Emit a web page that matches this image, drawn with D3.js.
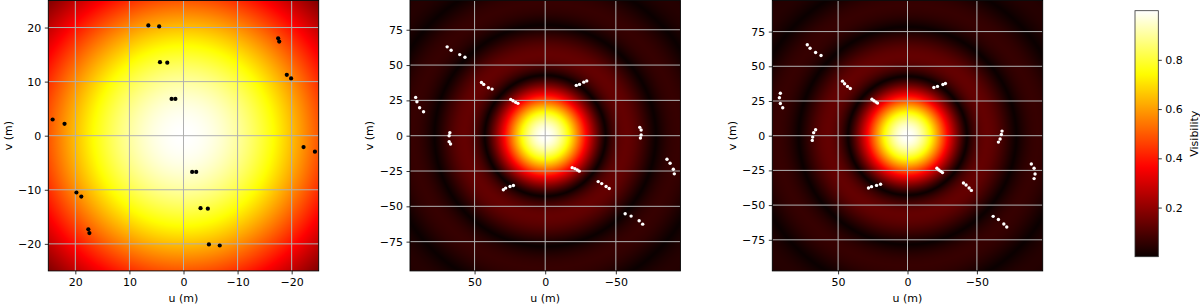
<!DOCTYPE html>
<html>
<head>
<meta charset="utf-8">
<script src="https://cdn.jsdelivr.net/npm/d3@7"></script>
<style>
  body { margin: 0; background: #fff; }
  text { font-family: "DejaVu Sans", sans-serif; fill: #000; }
</style>
</head>
<body>
<svg id="fig" width="1200" height="305"></svg>
<script>
// ---- data ----
// uv points (m), one [u, v] pair per antenna baseline sample
const uvPanel1 = [
  [6.5, 20.4], [4.5, 20.2], [4.35, 13.6], [3.0, 13.5], [2.2, 6.8], [1.5, 6.8],
  [-17.5, 18.0], [-17.7, 17.4], [-19.1, 11.25], [-19.9, 10.6],
  [24.2, 3.0], [22.0, 2.2],
  [19.8, -10.5], [18.9, -11.25], [17.6, -17.3], [17.4, -18.0],
  [-1.6, -6.7], [-2.35, -6.7], [-3.15, -13.4], [-4.5, -13.5], [-4.7, -20.1], [-6.7, -20.3],
  [-22.2, -2.1], [-24.3, -2.95]
];

const uvPanel2 = [
  [69.4, 62.9], [66.6, 60.5], [60.5, 57.4], [56.8, 55.5],
  [45.1, 37.7], [43.5, 36.3], [40.2, 33.9], [37.6, 33.0],
  [24.4, 25.7], [22.8, 24.7], [20.9, 23.6], [19.3, 22.9],
  [-22.0, 35.6], [-24.3, 36.3], [-27.3, 37.9], [-29.4, 38.8],
  [91.7, 27.1], [90.8, 24.0], [88.9, 19.8], [86.1, 17.0],
  [67.5, 2.1], [68.0, 0.0], [68.0, -4.2], [67.0, -5.9],
  [-66.9, 5.9], [-67.9, 4.0], [-67.9, 0.5], [-67.4, -1.6],
  [-19.1, -22.6], [-21.0, -23.3], [-22.7, -24.2], [-24.1, -25.1],
  [29.6, -38.3], [28.0, -37.1], [24.9, -36.0], [22.5, -35.3],
  [-37.5, -32.5], [-40.0, -33.9], [-43.1, -36.0], [-45.3, -37.4],
  [-56.6, -55.3], [-60.8, -56.9], [-66.5, -60.2], [-69.0, -62.6],
  [-86.2, -16.7], [-88.4, -19.5], [-90.7, -23.7], [-91.4, -27.0]
];

const uvPanel3 = [
  [72.2, 65.5], [70.2, 63.0], [66.2, 59.9], [62.3, 57.8],
  [46.8, 39.3], [45.3, 37.4], [43.2, 35.5], [41.2, 34.0],
  [25.6, 26.3], [24.2, 25.2], [22.7, 24.2], [21.6, 23.5],
  [-19.0, 34.7], [-21.6, 35.5], [-25.5, 36.9], [-27.3, 37.6],
  [91.6, 30.6], [92.3, 27.3], [91.6, 23.2], [89.9, 20.1],
  [66.2, 4.3], [67.6, 2.2], [68.3, -1.0], [68.6, -3.4],
  [-68.1, 3.3], [-67.6, 0.9], [-66.7, -2.4], [-65.5, -4.6],
  [-21.2, -23.5], [-22.6, -24.7], [-24.0, -25.7], [-25.2, -26.6],
  [28.1, -37.7], [25.9, -36.7], [22.3, -35.8], [19.4, -35.0],
  [-40.3, -34.1], [-42.2, -35.5], [-44.4, -37.7], [-46.0, -39.4],
  [-61.7, -58.1], [-65.5, -60.4], [-69.4, -63.6], [-71.5, -65.8],
  [-89.2, -20.4], [-91.2, -23.5], [-91.9, -27.6], [-91.2, -30.9]
];

// first null of the disk visibility (m), per panel
const firstNull = [42.8, 42.8, 42.8];
// half-width of each uv plane (m)
const uvExtent = [25, 95.7, 97.4];
const uTicks = [[20, 10, 0, -10, -20], [50, 0, -50], [50, 0, -50]];
const vTicks = [[-20, -10, 0, 10, 20], [-75, -50, -25, 0, 25, 50, 75], [-75, -50, -25, 0, 25, 50, 75]];
const cbarTicks = [0.2, 0.4, 0.6, 0.8];
const cbarRange = [0.0005, 0.9995];

// ---- layout ----
const panelLeft = [48.3, 410, 772.3];
const panelTop = 0.5;
const panelSize = 270.4;
const cbar = { x: 1135, y: 10.7, w: 23.3, h: 246 };

// matplotlib "hot"
const hot = d3.scaleLinear()
  .domain([0, 0.365079, 0.746032, 1])
  .range(["#0b0000", "#ff0000", "#ffff00", "#ffffff"])
  .interpolate(d3.interpolateRgb)
  .clamp(true);

function besselJ1(x) {
  let term = x / 2, sum = term;
  const q = -(x * x) / 4;
  for (let k = 1; k < 80; k++) {
    term *= q / (k * (k + 1));
    sum += term;
    if (Math.abs(term) < 1e-14) break;
  }
  return sum;
}

function visibility(r, nullR) {
  const x = 3.8317 * r / nullR;
  if (x < 1e-9) return 1;
  return Math.abs(2 * besselJ1(x) / x);
}

const svg = d3.select("#fig");
const cnorm = d3.scaleLinear().domain(cbarRange).range([0, 1]);

const panels = [uvPanel1, uvPanel2, uvPanel3];

panels.forEach((pts, i) => {
  const L = panelLeft[i], T = panelTop, S = panelSize, E = uvExtent[i];
  const x = d3.scaleLinear().domain([E, -E]).range([L, L + S]);
  const y = d3.scaleLinear().domain([-E, E]).range([T + S, T]);

  // heatmap raster
  const n = Math.round(S);
  const canvas = document.createElement("canvas");
  canvas.width = n; canvas.height = n;
  const ctx = canvas.getContext("2d");
  const img = ctx.createImageData(n, n);
  for (let py = 0; py < n; py++) {
    const v = y.invert(T + (py + 0.5) * S / n);
    for (let px = 0; px < n; px++) {
      const u = x.invert(L + (px + 0.5) * S / n);
      const val = visibility(Math.hypot(u, v), firstNull[i]);
      const c = d3.rgb(hot(cnorm(val)));
      const o = (py * n + px) * 4;
      img.data[o] = c.r; img.data[o + 1] = c.g; img.data[o + 2] = c.b; img.data[o + 3] = 255;
    }
  }
  ctx.putImageData(img, 0, 0);

  const g = svg.append("g");
  g.append("image")
    .attr("x", L).attr("y", T)
    .attr("width", S).attr("height", S)
    .attr("preserveAspectRatio", "none")
    .attr("href", canvas.toDataURL());

  // grid
  uTicks[i].forEach(t => {
    g.append("line")
      .attr("x1", x(t)).attr("x2", x(t))
      .attr("y1", T).attr("y2", T + S)
      .attr("stroke", "#b0b0b0").attr("stroke-width", 1);
  });
  vTicks[i].forEach(t => {
    g.append("line")
      .attr("x1", L).attr("x2", L + S)
      .attr("y1", y(t)).attr("y2", y(t))
      .attr("stroke", "#b0b0b0").attr("stroke-width", 1);
  });

  // uv samples
  g.selectAll("circle.pt")
    .data(pts)
    .join("circle")
      .attr("class", "pt")
      .attr("cx", d => x(d[0]))
      .attr("cy", d => y(d[1]))
      .attr("r", i === 0 ? 2.1 : 1.7)
      .attr("fill", i === 0 ? "#000" : "#fff");

  // frame
  g.append("rect")
    .attr("x", L).attr("y", T).attr("width", S).attr("height", S)
    .attr("fill", "none").attr("stroke", "#000").attr("stroke-width", 0.9);

  // axes
  const xAxis = g.append("g")
    .attr("transform", `translate(0,${T + S})`)
    .call(d3.axisBottom(x).tickValues(uTicks[i]).tickSize(3.5).tickPadding(3.5).tickFormat(d3.format("d")));
  const yAxis = g.append("g")
    .attr("transform", `translate(${L},0)`)
    .call(d3.axisLeft(y).tickValues(vTicks[i]).tickSize(3.5).tickPadding(3.5).tickFormat(d3.format("d")));
  [xAxis, yAxis].forEach(ax => {
    ax.select(".domain").remove();
    ax.selectAll(".tick line").attr("stroke", "#000").attr("stroke-width", 0.8);
    ax.selectAll("text")
      .attr("font-size", "11px")
      .attr("font-family", "DejaVu Sans, sans-serif")
      .attr("fill", "#000");
  });

  // axis titles
  g.append("text")
    .attr("x", L + S / 2).attr("y", 302)
    .attr("text-anchor", "middle")
    .attr("font-size", "11px")
    .text("u (m)");
  g.append("text")
    .attr("transform", `translate(${L - 40.5},${T + S / 2}) rotate(-90)`)
    .attr("text-anchor", "middle")
    .attr("dy", "0.35em")
    .attr("font-size", "11px")
    .text("v (m)");
});

// ---- colorbar ----
const cy = d3.scaleLinear().domain(cbarRange).range([cbar.y + cbar.h, cbar.y]);
const grad = svg.append("defs").append("linearGradient")
  .attr("id", "cbgrad")
  .attr("x1", 0).attr("y1", 1).attr("x2", 0).attr("y2", 0);
d3.range(0, 1.0001, 0.02).forEach(t => {
  grad.append("stop").attr("offset", t).attr("stop-color", hot(t));
});
svg.append("rect")
  .attr("x", cbar.x).attr("y", cbar.y)
  .attr("width", cbar.w).attr("height", cbar.h)
  .attr("fill", "url(#cbgrad)")
  .attr("stroke", "#333").attr("stroke-width", 0.8);

const cAxis = svg.append("g")
  .attr("transform", `translate(${cbar.x + cbar.w},0)`)
  .call(d3.axisRight(cy).tickValues(cbarTicks).tickSize(3.5).tickPadding(3.5).tickFormat(d3.format(".1f")));
cAxis.select(".domain").remove();
cAxis.selectAll(".tick line").attr("stroke", "#000").attr("stroke-width", 0.8);
cAxis.selectAll("text")
  .attr("font-size", "11px")
  .attr("font-family", "DejaVu Sans, sans-serif")
  .attr("fill", "#000");

svg.append("text")
  .attr("transform", `translate(1194,${cbar.y + cbar.h / 2}) rotate(-90)`)
  .attr("text-anchor", "middle")
  .attr("dy", "0.35em")
  .attr("font-size", "11px")
  .text("Visibility");
</script>
</body>
</html>
